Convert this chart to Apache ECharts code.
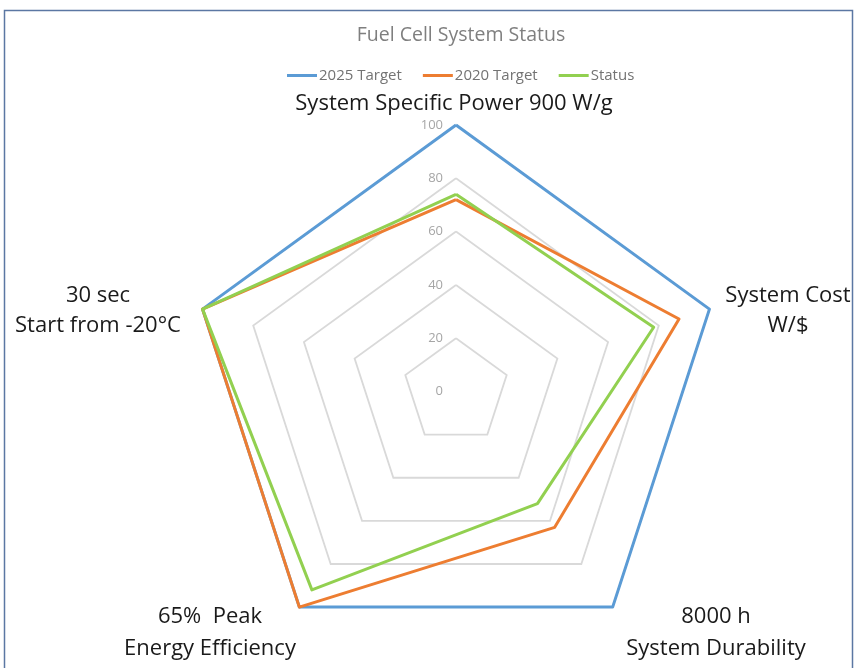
<!DOCTYPE html>
<html>
<head>
<meta charset="utf-8">
<title>Fuel Cell System Status</title>
<script src="https://cdn.jsdelivr.net/npm/echarts@6/dist/echarts.min.js"></script>
<style>
  html, body { margin: 0; padding: 0; background: #ffffff; }
  #chart { width: 856px; height: 668px; }
</style>
</head>
<body>
<div id="chart"></div>
<script>
// Indicators, listed clockwise from the top
const categories = [
  'System Specific Power 900 W/g',
  'System Cost\nW/$',
  '8000 h\nSystem Durability',
  '65%  Peak\nEnergy Efficiency',
  '30 sec\nStart from -20°C'
];
const seriesNames = ['2025 Target', '2020 Target', 'Status'];
const target2025 = [100, 100, 100, 100, 100];
const target2020 = [72, 88, 63, 100, 100];
const status = [74, 78, 52, 92, 100];
const ringTicks = [0, 20, 40, 60, 80, 100];

const colors = ['#5b9bd5', '#ed7d31', '#92d050'];
const font = '"Open Sans", "Liberation Sans", sans-serif';

// ECharts lays radar indicators out counter-clockwise, so walk the list backwards after the first
const order = [0, 4, 3, 2, 1];
const pick = arr => order.map(i => arr[i]);

const axisMax = ringTicks[ringTicks.length - 1];
const indicator = pick(categories).map((name, k) => {
  const ind = { name: name, min: ringTicks[0], max: axisMax };
  if (k === 0) {
    ind.axisLabel = { show: true, color: '#a6a6a6', fontSize: 13, fontFamily: font, margin: 13 };
  }
  return ind;
});

// Indicator captions placed around the web
const captionPos = [
  { x: 454, y: 104, lh: 30 },
  { x: 788, y: 311, lh: 30 },
  { x: 716, y: 633, lh: 32 },
  { x: 210, y: 633, lh: 32 },
  { x: 98,  y: 311, lh: 30 }
];
const captions = categories.map((c, i) => ({
  type: 'text',
  x: captionPos[i].x,
  y: captionPos[i].y,
  silent: true,
  style: {
    text: c,
    fill: '#1a1a1a',
    font: '22px ' + font,
    align: 'center',
    verticalAlign: 'middle',
    lineHeight: captionPos[i].lh
  }
}));

const chart = echarts.init(document.getElementById('chart'), null, { renderer: 'canvas' });
chart.setOption({
  backgroundColor: '#ffffff',
  animation: false,
  title: {
    text: 'Fuel Cell System Status',
    left: 456,
    top: 20,
    textAlign: 'center',
    textStyle: { color: '#7f7f7f', fontSize: 19.5, fontWeight: 'normal', fontFamily: font }
  },
  legend: {
    data: seriesNames,
    top: 63,
    left: 282,
    icon: 'rect',
    itemWidth: 30,
    itemHeight: 3,
    itemGap: 21,
    textStyle: { color: '#737373', fontSize: 15, fontFamily: font, padding: [0, 0, 0, -3] }
  },
  color: colors,
  radar: {
    center: [456, 391.5],
    radius: 266.5,
    startAngle: 90,
    shape: 'polygon',
    splitNumber: ringTicks.length - 1,
    indicator: indicator,
    axisName: { show: false },
    axisLine: { show: false },
    axisTick: { show: false },
    axisLabel: { show: false },
    splitArea: { show: false },
    splitLine: { lineStyle: { color: '#d9d9d9', width: 1.8 } }
  },
  graphic: [
    {
      type: 'rect',
      silent: true,
      shape: { x: 4.5, y: 10.5, width: 848, height: 680 },
      style: { fill: 'none', stroke: '#5b77a3', lineWidth: 1.5 }
    }
  ].concat(captions),
  series: [{
    type: 'radar',
    symbol: 'none',
    lineStyle: { width: 3 },
    data: [
      { name: seriesNames[0], value: pick(target2025), lineStyle: { color: colors[0] }, itemStyle: { color: colors[0] } },
      { name: seriesNames[1], value: pick(target2020), lineStyle: { color: colors[1] }, itemStyle: { color: colors[1] } },
      { name: seriesNames[2], value: pick(status), lineStyle: { color: colors[2] }, itemStyle: { color: colors[2] } }
    ]
  }]
});
</script>
</body>
</html>
